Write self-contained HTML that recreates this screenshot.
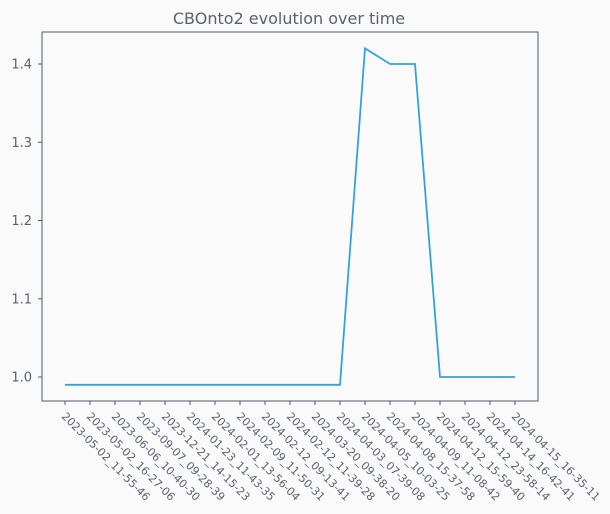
<!DOCTYPE html>
<html><head><meta charset="utf-8"><style>
body{margin:0;background:#fafafa;}
svg{display:block;font-family:"DejaVu Sans","Liberation Sans",sans-serif;}
</style></head><body>
<svg id="chart" width="610" height="514">
<rect width="610" height="514" fill="#fafafa"/>
<text x="289" y="24" text-anchor="middle" font-size="16" fill="#5a6272">CBOnto2 evolution over time</text>
<rect x="42" y="32" width="496" height="369" fill="none" stroke="#4d5a6b" stroke-width="1"/>
<g id="yaxis"></g><g id="xaxis"></g><g id="series"></g>
</svg>
<script>
const categories=["2023-05-02_11-55-46","2023-05-02_16-27-06","2023-06-06_10-40-30","2023-09-07_09-28-39","2023-12-21_14-15-23","2024-01-23_11-43-35","2024-02-01_13-56-04","2024-02-09_11-50-31","2024-02-12_09-13-41","2024-02-12_11-39-28","2024-03-20_09-38-20","2024-04-03_07-39-08","2024-04-05_10-03-25","2024-04-08_15-37-58","2024-04-09_11-08-42","2024-04-12_15-59-40","2024-04-12_23-58-14","2024-04-14_16-42-41","2024-04-15_16-35-11"];
const values=[0.99,0.99,0.99,0.99,0.99,0.99,0.99,0.99,0.99,0.99,0.99,0.99,1.42,1.40,1.40,1.00,1.00,1.00,1.00];
const yTicks=[1.0,1.1,1.2,1.3,1.4];
const NS="http://www.w3.org/2000/svg";
function xs(i){return 65+i*(450/(categories.length-1));}
function ys(v){return 377-(v-1.0)*782.5;}
function mk(t,a,p){const e=document.createElementNS(NS,t);for(const k in a)e.setAttribute(k,a[k]);p.appendChild(e);return e;}
const ya=document.getElementById('yaxis');
yTicks.forEach(v=>{
 const l=mk('line',{x1:38,x2:42,y1:ys(v),y2:ys(v),stroke:'#4d5a6b'},ya);
 
 
 const t=mk('text',{x:32,y:ys(v)+4.5,'text-anchor':'end','font-size':13,fill:'#5a6272'},ya);
 t.textContent=v.toFixed(1);
 
 
});
const xa=document.getElementById('xaxis');
categories.forEach((c,i)=>{
 const x=xs(i);
 const l=mk('line',{x1:x,x2:x,y1:401,y2:405,stroke:'#4d5a6b'},xa);
 
 
 const t=mk('text',{x:x-4,y:417,'font-size':11,fill:'#5a6272',transform:`rotate(45 ${x-4} 417)`},xa);
 t.textContent=c;
 
 
});
const s=document.getElementById('series');
const p=mk('polyline',{points:values.map((v,i)=>xs(i)+','+ys(v)).join(' '),fill:'none',stroke:'#34a3db','stroke-width':1.8},s);


</script>
</body></html>
